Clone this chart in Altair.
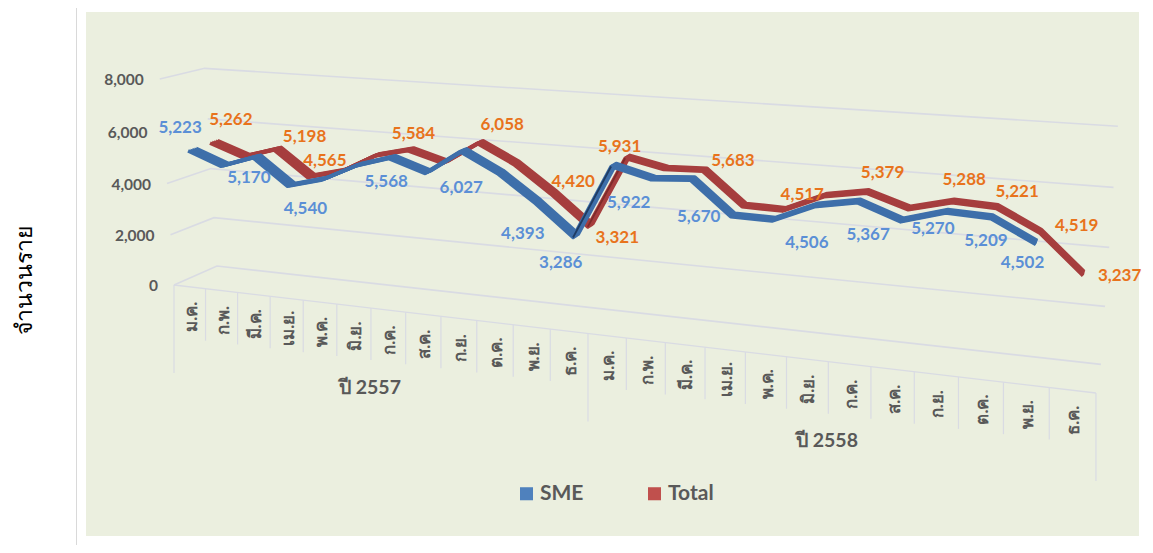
import altair as alt
import pandas as pd

# ---------- chart values ----------
months = ["ม.ค.", "ก.พ.", "มี.ค.", "เม.ย.", "พ.ค.", "มิ.ย.", "ก.ค.", "ส.ค.", "ก.ย.", "ต.ค.", "พ.ย.", "ธ.ค."] * 2
sme = [5223, 4738, 5170, 4196, 4540, 5171, 5568, 5130, 6027, 5350, 4393, 3286,
       5922, 5577, 5670, 4527, 4506, 5114, 5367, 4856, 5270, 5209, 4502]
total = [5262, 4807, 5198, 4234, 4565, 5265, 5584, 5209, 6058, 5390, 4420, 3321,
         5931, 5640, 5683, 4549, 4517, 5138, 5379, 4930, 5288, 5221, 4519, 3237]
levels = [0, 2000, 4000, 6000, 8000]
years = ["ปี 2557", "ปี 2558"]

# which months carry a data label, and how far the label sits from its point
sme_labelled = [0, 2, 4, 6, 8, 10, 11, 12, 14, 16, 18, 20, 21, 22]
sme_dx = [-12, -8, -19, -6, -2, -15, -15, 15, 6, 33, 9, -14, -6, -14]
sme_dy = [-22, 21, 30, 25, 38, 32, 27, 38, 38, 24, 34, 18, 24, 21]
total_labelled = [0, 2, 4, 6, 8, 10, 11, 12, 14, 16, 18, 20, 21, 22, 23]
total_dx = [17, 27, -19, 3, 22, 20, 27, -8, 28, 18, 15, 11, 20, 36, 36]
total_dy = [-22, -12, -9, -15, -17, -10, 13, -10, -9, -14, -18, -21, -15, -5, 2]

# ---------- perspective of the 3-D chart box ----------
N = 24
VMAX = 8000
SERIES_DEPTH = {"SME": 0.25, "Total": 0.75}
RIBBON = [-0.09, -0.045, 0.0, 0.045, 0.09]


def project(t, v, d):
    h = v / VMAX
    w = 1 - 0.185 * t - 0.03 * h + 0.044 * d
    sx = (174 + 719.2 * t - 19 * h + 52.5 * d) / w
    sy = (285 + 35.3 * t - 208.4 * h - 7.3 * d) / w
    return sx, sy


def row(**kw):
    sx, sy = project(kw.pop("t"), kw.pop("v"), kw.pop("d"))
    return dict(kw, sx=sx, sy=sy)


# series ribbons
ribbon_rows = []
for name, values in (("SME", sme), ("Total", total)):
    for off in RIBBON:
        for i, v in enumerate(values):
            ribbon_rows.append(row(series=name, off=off, i=i, t=(i + 0.5) / N, v=v,
                                   d=SERIES_DEPTH[name] + off))
ribbons = pd.DataFrame(ribbon_rows)

# grid lines: side wall then back wall
grid_rows = []
for lv in levels:
    if lv != 6000:
        grid_rows.append(row(level=lv, seq=0, t=0, v=lv, d=0))
    grid_rows.append(row(level=lv, seq=1, t=0, v=lv, d=1))
    grid_rows.append(row(level=lv, seq=2, t=1, v=lv, d=1))
grid = pd.DataFrame(grid_rows)
front = pd.DataFrame([row(seq=k, t=k, v=0, d=0) for k in (0, 1)])

# category ticks and labels
tick_rows = []
for k in range(N + 1):
    r = row(k=k, t=k / N, v=0, d=0)
    r["sy2"] = r["sy"] + (88 if k % 12 == 0 else 52)
    tick_rows.append(r)
ticks = pd.DataFrame(tick_rows)

cat_rows = []
for i, m in enumerate(months):
    r = row(label=m, t=(i + 0.5) / N, v=0, d=0)
    r["sx"] += 2
    r["sy"] += 30
    cat_rows.append(r)
cats = pd.DataFrame(cat_rows)

axis_labels = []
for lv in levels:
    r = row(label=f"{lv:,}", t=0, v=lv, d=0)
    r["sx"] -= 16
    r["sy"] += 1
    axis_labels.append(r)
axis_labels = pd.DataFrame(axis_labels)

# value labels
lab_rows = []
for name, values, idx, dxs, dys in (("SME", sme, sme_labelled, sme_dx, sme_dy),
                                    ("Total", total, total_labelled, total_dx, total_dy)):
    for i, dx, dy in zip(idx, dxs, dys):
        r = row(series=name, text=f"{values[i]:,}", t=(i + 0.5) / N, v=values[i], d=SERIES_DEPTH[name])
        r["sx"] += dx
        r["sy"] += dy
        lab_rows.append(r)
value_labels = pd.DataFrame(lab_rows)

# ---------- scales in page pixels ----------
W, H = 1137, 537
X = alt.X("sx:Q", scale=alt.Scale(domain=[8, 8 + W], range=[0, W]), axis=None)
Y = alt.Y("sy:Q", scale=alt.Scale(domain=[8, 8 + H], range=[0, H]), axis=None)
Y2 = alt.Y2("sy2:Q")

FONT = "Lato"
GRID = "#D9DBE3"
GREY = "#595959"
one = alt.Data(values=[{"a": 0}])

panel = alt.Chart(one).mark_rect(color="#EBEFDF").encode(
    x=alt.value(78), x2=alt.value(1131), y=alt.value(4), y2=alt.value(528))
left_border = alt.Chart(one).mark_rule(color="#D9D9D9", strokeWidth=1).encode(
    x=alt.value(68.5), y=alt.value(0), y2=alt.value(537))

grid_layer = alt.Chart(grid).mark_line(color=GRID, strokeWidth=1.6).encode(
    x=X, y=Y, detail="level:N", order="seq:Q")
front_layer = alt.Chart(front).mark_line(color=GRID, strokeWidth=1.4).encode(x=X, y=Y, order="seq:Q")
tick_layer = alt.Chart(ticks).mark_rule(color=GRID, strokeWidth=1.2).encode(x=X, y=Y, y2=Y2)

cat_layer = alt.Chart(cats).mark_text(
    angle=270, font=FONT, fontSize=17, fontWeight="bold", color=GREY, align="center", baseline="middle"
).encode(x=X, y=Y, text="label:N")
axis_layer = alt.Chart(axis_labels).mark_text(
    font=FONT, fontSize=15.5, fontWeight="bold", color=GREY, align="right", baseline="middle"
).encode(x=X, y=Y, text="label:N")

ribbon_colors = {"SME": "#3E6FAA", "Total": "#A63E3E"}
edge_colors = {"SME": "#1F3C63", "Total": "#7E2B2B"}


def ribbon_layer(name):
    d = ribbons[ribbons.series == name]
    body = alt.Chart(d).mark_line(color=ribbon_colors[name], strokeWidth=3.6, strokeJoin="round").encode(
        x=X, y=Y, detail="off:N", order="i:Q")
    edge = alt.Chart(d[(d.off == RIBBON[0]) & (d.i.isin([11, 12]))]).mark_line(
        color=edge_colors[name], strokeWidth=1.8).encode(x=X, y=Y, order="i:Q")
    return body + edge


label_layer = alt.Chart(value_labels).mark_text(
    font=FONT, fontSize=17, fontWeight="bold", align="center", baseline="middle"
).encode(
    x=X, y=Y, text="text:N",
    color=alt.Color("series:N", scale=alt.Scale(domain=["SME", "Total"], range=["#5B8FD6", "#E8731C"]), legend=None),
)

year_layer = alt.Chart(pd.DataFrame({"label": years, "xp": [362, 819], "yp": [380, 433]})).mark_text(
    font=FONT, fontSize=19.5, fontWeight="bold", color=GREY, align="center", baseline="middle"
).encode(x=alt.X("xp:Q", scale=None, axis=None), y=alt.Y("yp:Q", scale=None, axis=None), text="label:N")

title_layer = alt.Chart(pd.DataFrame({"label": ["จำนวนราย"]})).mark_text(
    font="Noto Sans", fontSize=23, color="#000000", angle=270, align="center", baseline="middle"
).encode(x=alt.value(17), y=alt.value(272), text="label:N")

legend_layer = alt.Chart(pd.DataFrame({"series": ["SME", "Total"]})).mark_square(size=0, opacity=1).encode(
    x=alt.value(0), y=alt.value(0),
    fill=alt.Fill("series:N", scale=alt.Scale(domain=["SME", "Total"], range=["#4F81BD", "#C0504D"]),
                  legend=alt.Legend(title=None, orient="none", legendX=508, legendY=475, direction="horizontal",
                                    symbolType="square", symbolSize=170, symbolStrokeWidth=0,
                                    labelFont=FONT, labelFontSize=21, labelFontWeight="bold", labelColor=GREY,
                                    columnPadding=60, labelOffset=3, columns=2, symbolOpacity=1)),
)

chart = alt.layer(
    panel, left_border, grid_layer, front_layer, tick_layer, cat_layer, axis_layer,
    ribbon_layer("Total"), ribbon_layer("SME"), label_layer, year_layer, title_layer, legend_layer,
).resolve_scale(color="independent").properties(
    width=W, height=H, padding=0, autosize=alt.AutoSizeParams(type="none"), background="white",
).configure_view(stroke=None)

chart.save("out.html", embed_options={"renderer": "svg", "actions": False})
